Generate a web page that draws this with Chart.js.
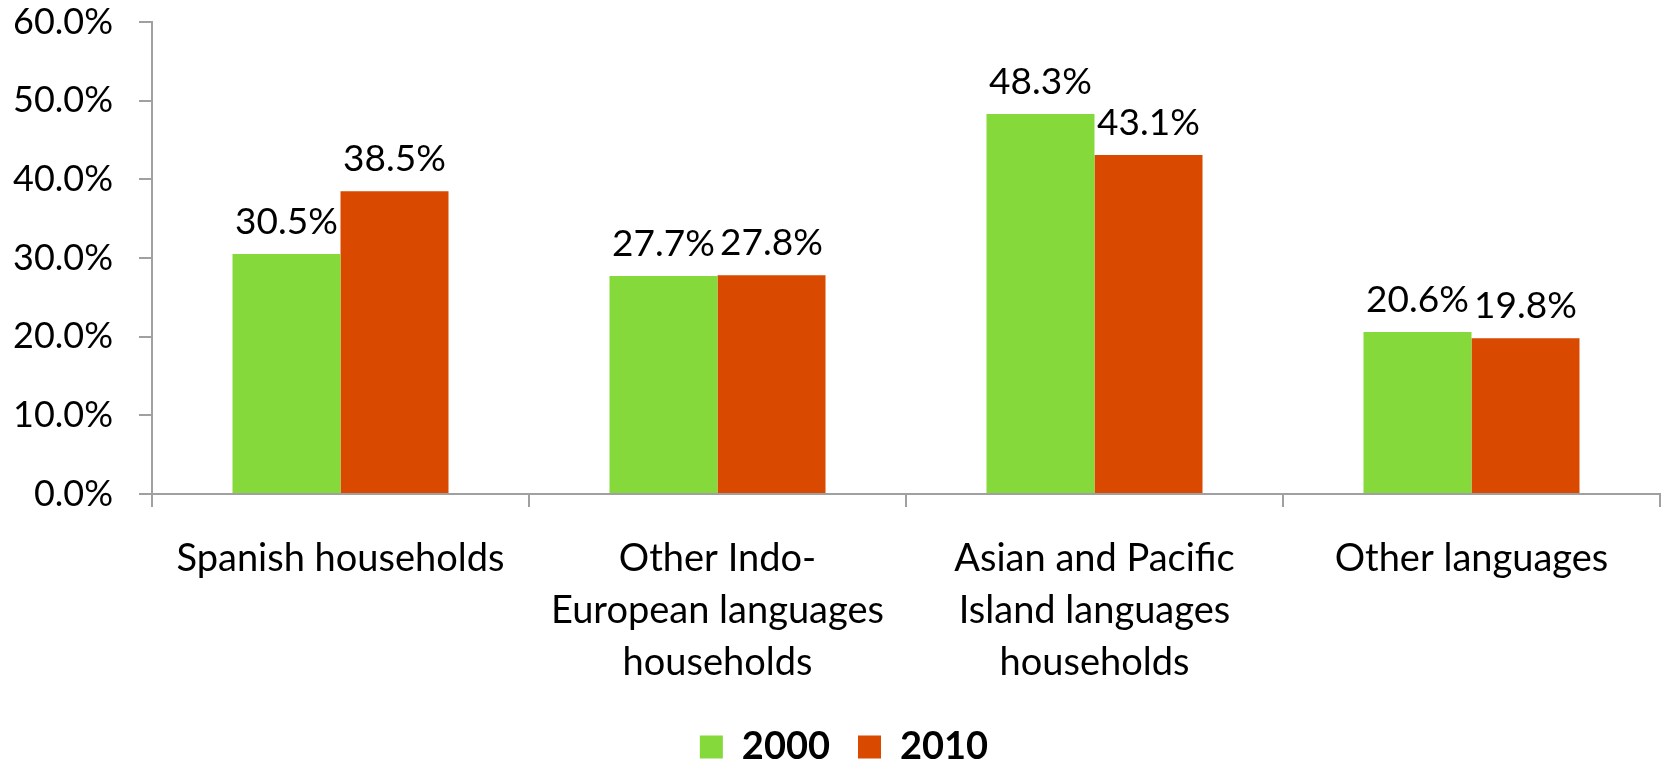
<!DOCTYPE html>
<html>
<head>
<meta charset="utf-8">
<script src="https://cdn.jsdelivr.net/npm/chart.js@4/dist/chart.umd.min.js"></script>
<style>
  html, body { margin: 0; padding: 0; background: #fff; }
  #wrap { width: 1663px; height: 765px; }
</style>
</head>
<body>
<div id="wrap"><canvas id="chart"></canvas></div>
<script>
var categories = [
  'Spanish households',
  ['Other Indo-', 'European languages', 'households'],
  ['Asian and Pacific', 'Island languages', 'households'],
  'Other languages'
];
var seriesNames = ['2000', '2010'];
var values2000 = [30.5, 27.7, 48.3, 20.6];
var values2010 = [38.5, 27.8, 43.1, 19.8];
var yTicks = [0, 10, 20, 30, 40, 50, 60];

var FONT = 'Lato, "Open Sans", sans-serif';

// draws the value above each bar
var valueLabels = {
  id: 'valueLabels',
  afterDatasetsDraw: function(chart) {
    var ctx = chart.ctx;
    ctx.save();
    ctx.font = '37px ' + FONT;
    ctx.fillStyle = '#000';
    ctx.textAlign = 'center';
    ctx.textBaseline = 'alphabetic';
    chart.data.datasets.forEach(function(ds, i) {
      chart.getDatasetMeta(i).data.forEach(function(bar, j) {
        ctx.fillText(ds.data[j].toFixed(1) + '%', bar.x, bar.y - 20);
      });
    });
    ctx.restore();
  }
};

// legend sits a little right of centre in the original
var legendNudge = {
  id: 'legendNudge',
  afterLayout: function(chart) {
    if (chart.legend) {
      chart.legend.left += 14;
      chart.legend.right += 14;
    }
  }
};

var ctx = document.getElementById('chart');
new Chart(ctx, {
  type: 'bar',
  data: {
    labels: categories,
    datasets: [
      { label: seriesNames[0], data: values2000, backgroundColor: '#85d93a' },
      { label: seriesNames[1], data: values2010, backgroundColor: '#d94900' }
    ]
  },
  options: {
    responsive: true,
    maintainAspectRatio: false,
    animation: false,
    layout: { padding: { top: 2, right: 3, left: 0, bottom: 0 } },
    datasets: { bar: { barPercentage: 1, categoryPercentage: 0.573 } },
    plugins: {
      tooltip: { enabled: false },
      legend: {
        position: 'bottom',
        maxHeight: 65,
        labels: {
          font: { family: FONT, size: 38, weight: 'bold', lineHeight: 1 },
          color: '#000',
          boxWidth: 23,
          boxHeight: 23,
          padding: 28
        }
      }
    },
    scales: {
      x: {
        grid: { drawOnChartArea: false, drawTicks: true, tickLength: 13, color: '#a0a0a0', lineWidth: 2 },
        border: { color: '#a0a0a0', width: 2 },
        ticks: {
          font: { family: FONT, size: 38, lineHeight: 1.37 },
          color: '#000',
          maxRotation: 0,
          autoSkip: false,
          padding: 26
        },
        afterFit: function(axis) { axis.height = 206; }
      },
      y: {
        min: 0,
        max: 60,
        afterBuildTicks: function(axis) {
          axis.ticks = yTicks.map(function(v) { return { value: v }; });
        },
        grid: { drawOnChartArea: false, drawTicks: true, tickLength: 13, color: '#a0a0a0', lineWidth: 2 },
        border: { color: '#a0a0a0', width: 2 },
        ticks: {
          font: { family: FONT, size: 36 },
          color: '#000',
          padding: 26,
          callback: function(v) { return v.toFixed(1) + '%'; }
        },
        afterFit: function(axis) {
          axis.width = 152;
          axis.paddingTop = 22;
          axis.paddingBottom = 22;
        }
      }
    }
  },
  plugins: [valueLabels, legendNudge]
});
</script>
</body>
</html>
